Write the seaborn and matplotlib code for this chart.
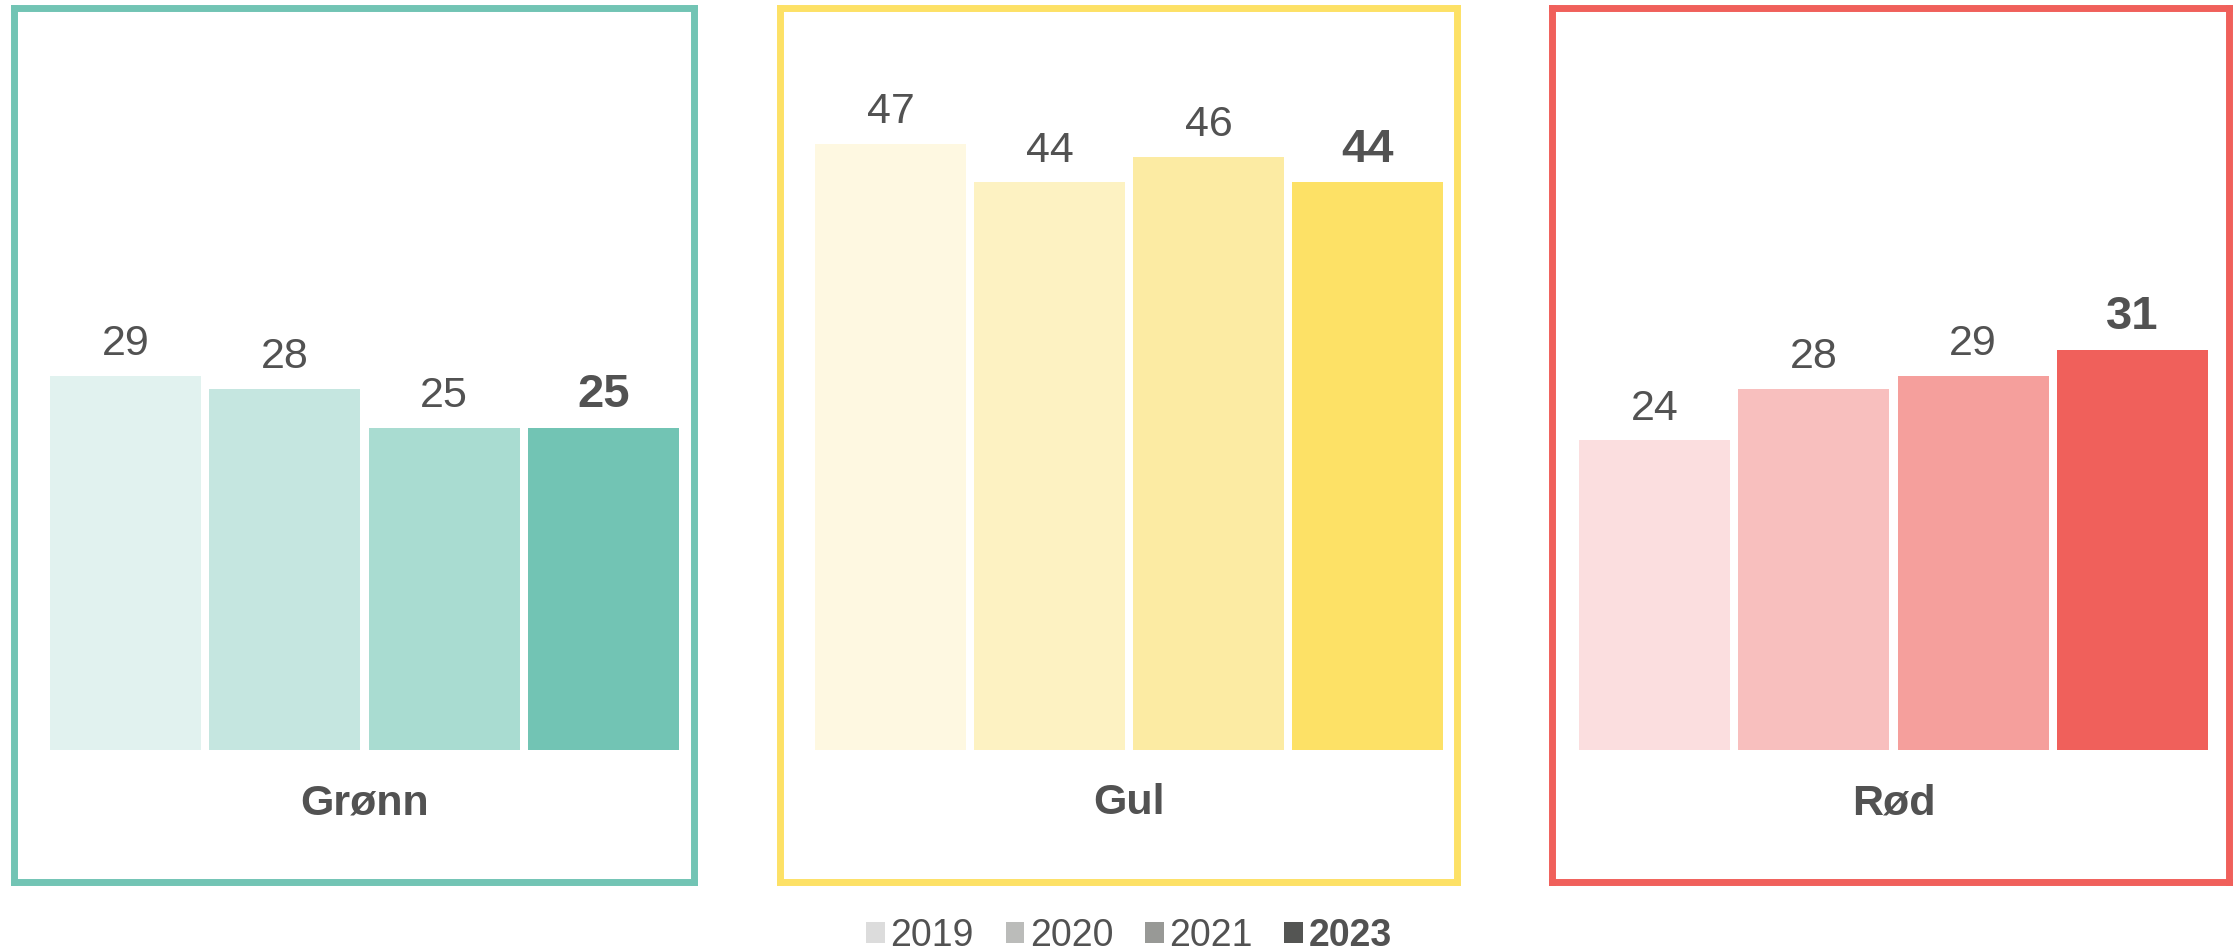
import matplotlib
matplotlib.use("Agg")
import matplotlib.pyplot as plt
from matplotlib.patches import Patch
import seaborn as sns
import pandas as pd

# ---- data ----
panels = ["Grønn", "Gul", "Rød"]
years = ["2019", "2020", "2021", "2023"]
gronn = [29, 28, 25, 25]
gul = [47, 44, 46, 44]
rod = [24, 28, 29, 31]
values = [gronn, gul, rod]

# ---- styles ----
gronn_colors = ["#E1F2EF", "#C5E6E0", "#A9DCD1", "#72C4B4"]
gul_colors = ["#FEF8E1", "#FDF2C2", "#FCEBA3", "#FDE166"]
rod_colors = ["#FBDEDF", "#F8BFBE", "#F59F9C", "#F0605B"]
panel_colors = [gronn_colors, gul_colors, rod_colors]
frame_colors = ["#72C4B4", "#FDE166", "#F0605B"]
legend_colors = ["#DCDCDC", "#BBBCBA", "#989996", "#545553"]
text_color = "#525252"

sns.set_style("white")
plt.rcParams["font.family"] = ["Liberation Sans", "DejaVu Sans"]

W, H = 2233, 950
fig = plt.figure(figsize=(W / 100, H / 100), dpi=100)

# layout in pixels: (frame left, frame right, xlim)
frames = [
    (13.5, 693.5, (-0.703, 3.565)),
    (779.5, 1457.0, (-0.697, 3.562)),
    (1551.5, 2228.5, (-0.647, 3.603)),
]
top_px, bottom_px = 8, 882
ylim = (-10.23, 57.52)

for i, (name, vals, cols) in enumerate(zip(panels, values, panel_colors)):
    l, r, xl = frames[i]
    ax = fig.add_axes([l / W, (H - bottom_px) / H, (r - l) / W, (bottom_px - top_px) / H])
    df = pd.DataFrame({"year": years, "value": vals})
    sns.barplot(data=df, x="year", y="value", hue="year", order=years,
                hue_order=years, palette=dict(zip(years, cols)),
                width=0.948, saturation=1, linewidth=0, legend=False, ax=ax)
    ax.set_xlim(*xl)
    ax.set_ylim(*ylim)
    ax.set_xticks([])
    ax.set_yticks([])
    ax.set_xlabel("")
    ax.set_ylabel("")
    for sp in ax.spines.values():
        sp.set_visible(True)
        sp.set_color(frame_colors[i])
        sp.set_linewidth(5.0)
    for j, cont in enumerate(ax.containers):
        for bar in cont:
            last = (j == len(years) - 1)
            ax.annotate(f"{int(round(bar.get_height()))}",
                        xy=(bar.get_x() + bar.get_width() / 2, bar.get_height()),
                        xytext=(0, 15), textcoords="offset points",
                        ha="center", va="baseline",
                        fontsize=34 if last else 31,
                        fontweight="bold" if last else "normal",
                        color=text_color)
    ax.text(1.5, -4.96, name, ha="center", va="baseline", fontsize=31,
            fontweight="bold", color=text_color)

handles = [Patch(facecolor=c, edgecolor="none") for c in legend_colors]
leg = fig.legend(handles=handles, labels=years, loc="center",
                 bbox_to_anchor=(1129 / W, 1 - 936 / H), ncol=4, frameon=False,
                 fontsize=27, handlelength=0.5, handleheight=0.5,
                 handletextpad=0.14, columnspacing=0.85, borderpad=0)
for t in leg.get_texts():
    t.set_color(text_color)
leg.get_texts()[-1].set_fontweight("bold")

fig.savefig("out.png", dpi=100, facecolor="white")
